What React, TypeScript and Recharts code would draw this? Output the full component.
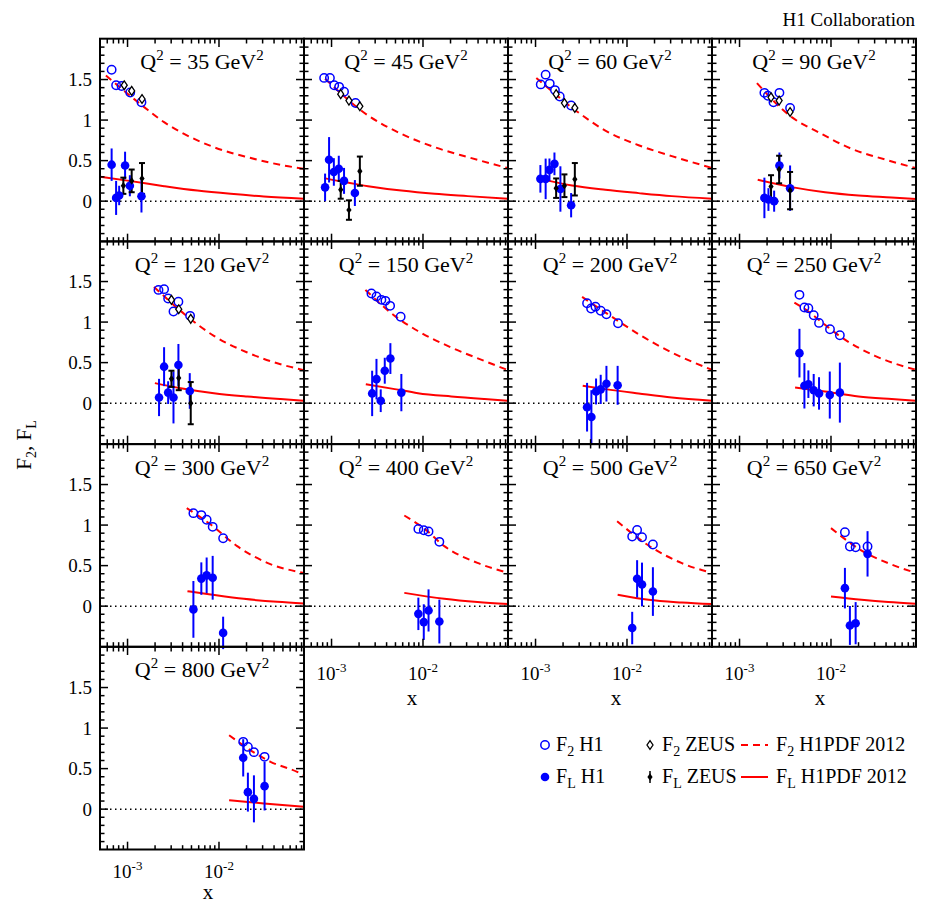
import React from "react";
import {
  ComposedChart,
  ErrorBar,
  Line,
  ReferenceLine,
  Scatter,
  XAxis,
  YAxis,
} from "recharts";

// [x, value, error]
const q2List = [35, 45, 60, 90, 120, 150, 200, 250, 300, 400, 500, 650, 800];

const f2h1Q35 = [[6.7e-4, 1.62], [7.5e-4, 1.43], [8.6e-4, 1.42], [1.07e-3, 1.34], [1.42e-3, 1.22]];
const f2zeusQ35 = [[9.2e-4, 1.43], [1.11e-3, 1.36], [1.44e-3, 1.26]];
const flh1Q35 = [[6.7e-4, 0.45, 0.2], [7.5e-4, 0.04, 0.21], [8.1e-4, 0.07, 0.12], [9.4e-4, 0.44, 0.17], [1.06e-3, 0.19, 0.13], [1.42e-3, 0.06, 0.2]];
const flzeusQ35 = [[9.0e-4, 0.19, 0.1], [1.11e-3, 0.25, 0.14], [1.44e-3, 0.28, 0.19]];
const f2pdfQ35 = [[5.8e-4, 1.55], [1.52e-3, 1.16], [2.51e-3, 0.974], [4.15e-3, 0.83], [8.8e-3, 0.666], [0.0204, 0.543], [0.0512, 0.44], [0.085, 0.4]];
const flpdfQ35 = [[5e-4, 0.3], [1.09e-3, 0.247], [2.51e-3, 0.185], [5.8e-3, 0.13], [0.0134, 0.09], [0.0309, 0.058], [0.085, 0.03]];

const f2h1Q45 = [[8.3e-4, 1.52], [9.6e-4, 1.52], [1.07e-3, 1.43], [1.21e-3, 1.41], [1.37e-3, 1.35], [1.83e-3, 1.21]];
const f2zeusQ45 = [[1.26e-3, 1.32], [1.55e-3, 1.24], [2.04e-3, 1.17]];
const flh1Q45 = [[8.5e-4, 0.17, 0.17], [9.4e-4, 0.51, 0.28], [1.06e-3, 0.36, 0.17], [1.2e-3, 0.4, 0.16], [1.37e-3, 0.25, 0.16], [1.8e-3, 0.1, 0.16]];
const flzeusQ45 = [[1.26e-3, 0.14, 0.11], [1.55e-3, -0.11, 0.12], [2.04e-3, 0.37, 0.18]];
const f2pdfQ45 = [[8.5e-4, 1.51], [2.51e-3, 1.056], [5.8e-3, 0.83], [0.0134, 0.666], [0.0309, 0.543], [0.085, 0.407]];
const flpdfQ45 = [[8.3e-4, 0.284], [2.51e-3, 0.185], [5.8e-3, 0.13], [0.0134, 0.09], [0.0309, 0.062], [0.085, 0.03]];

const f2h1Q60 = [[1.14e-3, 1.44], [1.29e-3, 1.56], [1.43e-3, 1.45], [1.63e-3, 1.37], [1.84e-3, 1.29], [2.45e-3, 1.18]];
const f2zeusQ60 = [[1.68e-3, 1.32], [2.07e-3, 1.21], [2.69e-3, 1.15]];
const flh1Q60 = [[1.13e-3, 0.275, 0.17], [1.29e-3, 0.275, 0.25], [1.42e-3, 0.386, 0.14], [1.61e-3, 0.46, 0.14], [1.87e-3, 0.15, 0.28], [2.45e-3, -0.05, 0.15]];
const flzeusQ60 = [[1.68e-3, 0.16, 0.12], [2.07e-3, 0.19, 0.14], [2.69e-3, 0.27, 0.2]];
const f2pdfQ60 = [[1.02e-3, 1.52], [2.97e-3, 1.09], [5.8e-3, 0.87], [0.0134, 0.69], [0.0309, 0.555], [0.085, 0.41]];
const flpdfQ60 = [[1.04e-3, 0.284], [2.51e-3, 0.193], [5.8e-3, 0.14], [0.0134, 0.099], [0.0309, 0.062], [0.085, 0.03]];

const f2h1Q90 = [[1.87e-3, 1.336], [2.04e-3, 1.3], [2.35e-3, 1.22], [2.73e-3, 1.336], [3.57e-3, 1.15]];
const f2zeusQ90 = [[2.21e-3, 1.28], [2.71e-3, 1.24], [3.57e-3, 1.1]];
const flh1Q90 = [[1.87e-3, 0.04, 0.25], [2.07e-3, 0.02, 0.14], [2.39e-3, 0.0, 0.13], [2.73e-3, 0.44, 0.16], [3.57e-3, 0.16, 0.28]];
const flzeusQ90 = [[2.21e-3, 0.18, 0.14], [2.71e-3, 0.39, 0.17], [3.57e-3, 0.13, 0.23]];
const f2pdfQ90 = [[1.55e-3, 1.455], [3.72e-3, 1.036], [7.3e-3, 0.85], [0.0168, 0.645], [0.0389, 0.514], [0.085, 0.407]];
const flpdfQ90 = [[1.58e-3, 0.263], [3.72e-3, 0.173], [8.6e-3, 0.11], [0.02, 0.07], [0.046, 0.045], [0.085, 0.025]];

const f2h1Q120 = [[2.18e-3, 1.397], [2.51e-3, 1.406], [2.78e-3, 1.29], [3.18e-3, 1.13], [3.6e-3, 1.25], [4.83e-3, 1.077]];
const f2zeusQ120 = [[3.02e-3, 1.274], [3.63e-3, 1.159], [4.91e-3, 1.04]];
const flh1Q120 = [[2.21e-3, 0.07, 0.23], [2.51e-3, 0.45, 0.24], [2.78e-3, 0.13, 0.14], [3.18e-3, 0.07, 0.32], [3.6e-3, 0.47, 0.26], [4.79e-3, 0.15, 0.22]];
const flzeusQ120 = [[3.02e-3, 0.3, 0.1], [3.63e-3, 0.31, 0.15], [4.91e-3, 0.0, 0.26]];
const f2pdfQ120 = [[1.95e-3, 1.434], [4.2e-3, 1.097], [8.8e-3, 0.83], [0.0204, 0.625], [0.0471, 0.48], [0.085, 0.407]];
const flpdfQ120 = [[1.99e-3, 0.247], [3.82e-3, 0.185], [8.8e-3, 0.123], [0.0204, 0.082], [0.0471, 0.05], [0.085, 0.03]];

const f2h1Q150 = [[2.73e-3, 1.352], [3.1e-3, 1.315], [3.51e-3, 1.274], [3.88e-3, 1.262], [4.37e-3, 1.2], [5.7e-3, 1.065]];
const flh1Q150 = [[2.78e-3, 0.12, 0.28], [3.1e-3, 0.296, 0.25], [3.45e-3, 0.03, 0.14], [3.82e-3, 0.4, 0.16], [4.4e-3, 0.55, 0.19], [5.8e-3, 0.13, 0.23]];
const f2pdfQ150 = [[2.35e-3, 1.397], [4.91e-3, 1.077], [8.8e-3, 0.89], [0.0204, 0.686], [0.0471, 0.52], [0.085, 0.407]];
const flpdfQ150 = [[2.37e-3, 0.234], [4.91e-3, 0.173], [8.8e-3, 0.123], [0.0204, 0.082], [0.0471, 0.05], [0.085, 0.03]];

const f2h1Q200 = [[3.66e-3, 1.233], [4.05e-3, 1.167], [4.52e-3, 1.19], [5.16e-3, 1.14], [5.96e-3, 1.097], [7.98e-3, 0.986]];
const flh1Q200 = [[3.66e-3, -0.05, 0.3], [4.08e-3, -0.17, 0.33], [4.59e-3, 0.144, 0.16], [5.16e-3, 0.17, 0.18], [5.96e-3, 0.24, 0.22], [7.9e-3, 0.22, 0.24]];
const f2pdfQ200 = [[3.23e-3, 1.31], [7.47e-3, 1.036], [0.0134, 0.85], [0.0309, 0.625], [0.085, 0.41]];
const flpdfQ200 = [[3.28e-3, 0.214], [5.8e-3, 0.173], [0.0134, 0.12], [0.0309, 0.07], [0.085, 0.03]];

const f2h1Q250 = [[4.52e-3, 1.336], [5.12e-3, 1.18], [5.66e-3, 1.17], [6.47e-3, 1.085], [7.4e-3, 0.99], [9.75e-3, 0.912], [0.0125, 0.838]];
const flh1Q250 = [[4.52e-3, 0.617, 0.3], [5.12e-3, 0.214, 0.28], [5.66e-3, 0.234, 0.17], [6.47e-3, 0.16, 0.2], [7.4e-3, 0.12, 0.2], [9.7e-3, 0.1, 0.29], [0.0125, 0.13, 0.37]];
const f2pdfQ250 = [[3.98e-3, 1.24], [5.66e-3, 1.13], [8.6e-3, 0.966], [0.0131, 0.81], [0.0302, 0.584], [0.085, 0.41]];
const flpdfQ250 = [[4.05e-3, 0.193], [8.6e-3, 0.144], [0.02, 0.082], [0.046, 0.05], [0.085, 0.03]];

const f2h1Q300 = [[5.25e-3, 1.147], [6.41e-3, 1.123], [7.33e-3, 1.065], [8.53e-3, 0.978], [0.0111, 0.838]];
const flh1Q300 = [[5.25e-3, -0.04, 0.35], [6.41e-3, 0.34, 0.2], [7.33e-3, 0.38, 0.22], [8.53e-3, 0.35, 0.27], [0.0111, -0.33, 0.2]];
const f2pdfQ300 = [[4.44e-3, 1.21], [8.1e-3, 1.007], [0.0158, 0.74], [0.0337, 0.534], [0.085, 0.41]];
const flpdfQ300 = [[4.52e-3, 0.185], [8.1e-3, 0.144], [0.0187, 0.09], [0.0433, 0.053], [0.085, 0.033]];

const f2h1Q400 = [[8.9e-3, 0.953], [0.0102, 0.937], [0.0115, 0.92], [0.0151, 0.793]];
const flh1Q400 = [[8.9e-3, -0.095, 0.2], [0.0102, -0.197, 0.22], [0.0115, -0.053, 0.26], [0.0151, -0.19, 0.27]];
const f2pdfQ400 = [[6.25e-3, 1.118], [0.0105, 0.95], [0.0171, 0.74], [0.0394, 0.534], [0.085, 0.41]];
const flpdfQ400 = [[6.25e-3, 0.164], [0.0171, 0.09], [0.0394, 0.05], [0.085, 0.025]];

const f2h1Q500 = [[0.0114, 0.86], [0.0129, 0.94], [0.0146, 0.85], [0.0192, 0.76]];
const flh1Q500 = [[0.0114, -0.27, 0.2], [0.0129, 0.337, 0.23], [0.0146, 0.267, 0.27], [0.0192, 0.18, 0.3]];
const f2pdfQ500 = [[7.8e-3, 1.048], [0.0172, 0.748], [0.0398, 0.53], [0.085, 0.41]];
const flpdfQ500 = [[7.9e-3, 0.14], [0.0172, 0.078], [0.0398, 0.045], [0.085, 0.025]];

const f2h1Q650 = [[0.0142, 0.912], [0.0161, 0.736], [0.0186, 0.727], [0.0251, 0.736]];
const flh1Q650 = [[0.0142, 0.222, 0.25], [0.0161, -0.238, 0.24], [0.0186, -0.21, 0.26], [0.0251, 0.645, 0.28]];
const f2pdfQ650 = [[0.01, 0.962], [0.0216, 0.686], [0.0422, 0.53], [0.085, 0.41]];
const flpdfQ650 = [[0.01, 0.12], [0.0216, 0.078], [0.0422, 0.05], [0.085, 0.03]];

const f2h1Q800 = [[0.0184, 0.83], [0.0207, 0.768], [0.0241, 0.703], [0.0315, 0.645]];
const flh1Q800 = [[0.0184, 0.633, 0.23], [0.0207, 0.21, 0.24], [0.0241, 0.127, 0.29], [0.0315, 0.284, 0.3]];
const f2pdfQ800 = [[0.0129, 0.912], [0.0366, 0.584], [0.0716, 0.46], [0.085, 0.419]];
const flpdfQ800 = [[0.0129, 0.111], [0.031, 0.07], [0.085, 0.03]];

const xTicks = [6e-4, 7e-4, 8e-4, 9e-4, 1e-3, 2e-3, 3e-3, 4e-3, 5e-3, 6e-3, 7e-3, 8e-3, 9e-3, 1e-2, 2e-2, 3e-2, 4e-2, 5e-2, 6e-2, 7e-2, 8e-2];
const xMajor = [1e-3, 1e-2];
const xMajorLabels = ["-3", "-2"];
const yTicks = [-0.4, -0.3, -0.2, -0.1, 0, 0.1, 0.2, 0.3, 0.4, 0.5, 0.6, 0.7, 0.8, 0.9, 1, 1.1, 1.2, 1.3, 1.4, 1.5, 1.6, 1.7, 1.8, 1.9];
const yLabels = [0, 0.5, 1, 1.5];

const X_DOMAIN = [5e-4, 0.085];
const Y_DOMAIN = [-0.5, 2.0];

const BLUE = "#0000ff";
const RED = "#ff0000";
const FONT = '"Liberation Serif", "Times New Roman", serif';

const PW = 204;
const PH = 202.7;
const X0 = 100;
const Y0 = 38.7;
const ML = 50;
const MR = 6;
const MT = 6;
const MB = 44;

const toPts = (a: number[][]) => a.map(([x, y, e]) => ({ x, y, e }));

const panels = [
  { f2h1: f2h1Q35, f2zeus: f2zeusQ35, flh1: flh1Q35, flzeus: flzeusQ35, f2pdf: f2pdfQ35, flpdf: flpdfQ35 },
  { f2h1: f2h1Q45, f2zeus: f2zeusQ45, flh1: flh1Q45, flzeus: flzeusQ45, f2pdf: f2pdfQ45, flpdf: flpdfQ45 },
  { f2h1: f2h1Q60, f2zeus: f2zeusQ60, flh1: flh1Q60, flzeus: flzeusQ60, f2pdf: f2pdfQ60, flpdf: flpdfQ60 },
  { f2h1: f2h1Q90, f2zeus: f2zeusQ90, flh1: flh1Q90, flzeus: flzeusQ90, f2pdf: f2pdfQ90, flpdf: flpdfQ90 },
  { f2h1: f2h1Q120, f2zeus: f2zeusQ120, flh1: flh1Q120, flzeus: flzeusQ120, f2pdf: f2pdfQ120, flpdf: flpdfQ120 },
  { f2h1: f2h1Q150, f2zeus: [], flh1: flh1Q150, flzeus: [], f2pdf: f2pdfQ150, flpdf: flpdfQ150 },
  { f2h1: f2h1Q200, f2zeus: [], flh1: flh1Q200, flzeus: [], f2pdf: f2pdfQ200, flpdf: flpdfQ200 },
  { f2h1: f2h1Q250, f2zeus: [], flh1: flh1Q250, flzeus: [], f2pdf: f2pdfQ250, flpdf: flpdfQ250 },
  { f2h1: f2h1Q300, f2zeus: [], flh1: flh1Q300, flzeus: [], f2pdf: f2pdfQ300, flpdf: flpdfQ300 },
  { f2h1: f2h1Q400, f2zeus: [], flh1: flh1Q400, flzeus: [], f2pdf: f2pdfQ400, flpdf: flpdfQ400 },
  { f2h1: f2h1Q500, f2zeus: [], flh1: flh1Q500, flzeus: [], f2pdf: f2pdfQ500, flpdf: flpdfQ500 },
  { f2h1: f2h1Q650, f2zeus: [], flh1: flh1Q650, flzeus: [], f2pdf: f2pdfQ650, flpdf: flpdfQ650 },
  { f2h1: f2h1Q800, f2zeus: [], flh1: flh1Q800, flzeus: [], f2pdf: f2pdfQ800, flpdf: flpdfQ800 },
];

// markers
const OpenCircle = (p: any) => (
  <circle cx={p.cx} cy={p.cy} r={4.2} fill="none" stroke={BLUE} strokeWidth={1.5} />
);
const FullCircle = (p: any) => <circle cx={p.cx} cy={p.cy} r={4.3} fill={BLUE} />;
const OpenDiamond = (p: any) => (
  <path
    d={`M${p.cx},${p.cy - 4.4}L${p.cx + 3},${p.cy}L${p.cx},${p.cy + 4.4}L${p.cx - 3},${p.cy}Z`}
    fill="#fff"
    stroke="#000"
    strokeWidth={1.3}
  />
);
const FullDiamond = (p: any) => (
  <path
    d={`M${p.cx},${p.cy - 3.8}L${p.cx + 2.6},${p.cy}L${p.cx},${p.cy + 3.8}L${p.cx - 2.6},${p.cy}Z`}
    fill="#000"
  />
);

function XTick(props: any) {
  const { x, y, payload, showLabel, labelDy } = props;
  const v = payload.value;
  const mi = xMajor.indexOf(v);
  const len = mi >= 0 ? 8 : 4.5;
  return (
    <g>
      <line x1={x} y1={y} x2={x} y2={y - len} stroke="#000" strokeWidth={1.5} />
      <line x1={x} y1={y - PH} x2={x} y2={y - PH + len} stroke="#000" strokeWidth={1.5} />
      {showLabel && mi >= 0 && (
        <text x={x} y={y + labelDy} textAnchor="middle" fontFamily={FONT} fontSize={19} fill="#000">
          10
          <tspan dy={-8} fontSize={13}>
            {xMajorLabels[mi]}
          </tspan>
        </text>
      )}
    </g>
  );
}

function YTick(props: any) {
  const { x, y, payload, showLabel } = props;
  const v = payload.value;
  const major = Math.abs(v * 2 - Math.round(v * 2)) < 1e-6;
  const len = major ? 8 : 4.5;
  return (
    <g>
      <line x1={x} y1={y} x2={x + len} y2={y} stroke="#000" strokeWidth={1.5} />
      <line x1={x + PW} y1={y} x2={x + PW - len} y2={y} stroke="#000" strokeWidth={1.5} />
      {showLabel && yLabels.includes(v) && (
        <text x={x - 8} y={y + 6.5} textAnchor="end" fontFamily={FONT} fontSize={19} fill="#000">
          {String(v)}
        </text>
      )}
    </g>
  );
}

function Panel({ index }: { index: number }) {
  const p = panels[index];
  const row = Math.floor(index / 4);
  const col = index % 4;
  const left = X0 + col * PW;
  const top = Y0 + row * PH;
  const xLabels = row === 3 || (row === 2 && col > 0);
  const labelDy = row === 3 ? 28 : 33;

  return (
    <div style={{ position: "absolute", left: left - ML, top: top - MT }}>
      <ComposedChart
        width={PW + ML + MR}
        height={PH + MT + MB}
        margin={{ top: MT, right: MR, bottom: MB - 1, left: ML - 1 }}
      >
        <XAxis
          dataKey="x"
          type="number"
          scale="log"
          domain={X_DOMAIN}
          allowDataOverflow
          ticks={xTicks}
          interval={0}
          height={1}
          tickSize={0}
          tickMargin={0}
          axisLine={false}
          tickLine={false}
          tick={(tp: any) => <XTick {...tp} showLabel={xLabels} labelDy={labelDy} />}
        />
        <YAxis
          dataKey="y"
          type="number"
          domain={Y_DOMAIN}
          allowDataOverflow
          ticks={yTicks}
          interval={0}
          width={1}
          tickSize={0}
          tickMargin={0}
          axisLine={false}
          tickLine={false}
          tick={(tp: any) => <YTick {...tp} showLabel={col === 0} />}
        />
        <ReferenceLine y={0} stroke="#000" strokeWidth={1.5} strokeDasharray="1.5 3.5" />
        <Line
          data={toPts(p.f2pdf)}
          dataKey="y"
          type="monotone"
          stroke={RED}
          strokeWidth={2}
          strokeDasharray="7 5"
          dot={false}
          isAnimationActive={false}
        />
        <Line
          data={toPts(p.flpdf)}
          dataKey="y"
          type="monotone"
          stroke={RED}
          strokeWidth={2}
          dot={false}
          isAnimationActive={false}
        />
        <Scatter data={toPts(p.f2h1)} shape={OpenCircle} isAnimationActive={false} />
        <Scatter data={toPts(p.f2zeus)} shape={OpenDiamond} isAnimationActive={false} />
        <Scatter data={toPts(p.flh1)} shape={FullCircle} isAnimationActive={false}>
          <ErrorBar dataKey="e" direction="y" width={0} stroke={BLUE} strokeWidth={2} isAnimationActive={false} />
        </Scatter>
        <Scatter data={toPts(p.flzeus)} shape={FullDiamond} isAnimationActive={false}>
          <ErrorBar dataKey="e" direction="y" width={3} stroke="#000" strokeWidth={2} isAnimationActive={false} />
        </Scatter>
      </ComposedChart>
    </div>
  );
}

function Overlay() {
  return (
    <svg
      width={930}
      height={904}
      style={{ position: "absolute", left: 0, top: 0, pointerEvents: "none" }}
      fontFamily={FONT}
    >
      <text x={915} y={26} textAnchor="end" fontSize={19}>
        H1 Collaboration
      </text>
      {q2List.map((q, i) => {
        const row = Math.floor(i / 4);
        const col = i % 4;
        const left = X0 + col * PW;
        const top = Y0 + row * PH;
        return (
          <g key={q}>
            <rect x={left} y={top} width={PW} height={PH} fill="none" stroke="#000" strokeWidth={2} />
            <text x={left + PW / 2} y={top + 30.5} textAnchor="middle" fontSize={22}>
              Q<tspan dy={-9} fontSize={15}>2</tspan>
              <tspan dy={9}>{` = ${q} GeV`}</tspan>
              <tspan dy={-9} fontSize={15}>2</tspan>
            </text>
          </g>
        );
      })}
      {/* x axis titles */}
      <text x={X0 + PW + 108} y={Y0 + 3 * PH + 58} textAnchor="middle" fontSize={21}>x</text>
      <text x={X0 + 2 * PW + 108} y={Y0 + 3 * PH + 58} textAnchor="middle" fontSize={21}>x</text>
      <text x={X0 + 3 * PW + 108} y={Y0 + 3 * PH + 58} textAnchor="middle" fontSize={21}>x</text>
      <text x={X0 + 108} y={Y0 + 4 * PH + 49} textAnchor="middle" fontSize={21}>x</text>
      {/* y axis title */}
      <text x={31} y={445} textAnchor="middle" fontSize={21} transform="rotate(-90 31 445)">
        F<tspan dy={5} fontSize={14}>2</tspan>
        <tspan dy={-5}>, F</tspan>
        <tspan dy={5} fontSize={14}>L</tspan>
      </text>
      {/* legend */}
      <circle cx={545} cy={745} r={4.2} fill="none" stroke={BLUE} strokeWidth={1.5} />
      <text x={556} y={751} fontSize={20}>
        F<tspan dy={5} fontSize={14}>2</tspan>
        <tspan dy={-5}> H1</tspan>
      </text>
      <path d="M650,740.6L653,745L650,749.4L647,745Z" fill="#fff" stroke="#000" strokeWidth={1.3} />
      <text x={662} y={751} fontSize={20}>
        F<tspan dy={5} fontSize={14}>2</tspan>
        <tspan dy={-5}> ZEUS</tspan>
      </text>
      <line x1={741} y1={745} x2={768} y2={745} stroke={RED} strokeWidth={2} strokeDasharray="7 5" />
      <text x={776} y={751} fontSize={20}>
        F<tspan dy={5} fontSize={14}>2</tspan>
        <tspan dy={-5}> H1PDF 2012</tspan>
      </text>

      <circle cx={545} cy={777} r={4.3} fill={BLUE} />
      <text x={556} y={783} fontSize={20}>
        F<tspan dy={5} fontSize={14}>L</tspan>
        <tspan dy={-5}> H1</tspan>
      </text>
      <line x1={650} y1={771} x2={650} y2={783} stroke="#000" strokeWidth={1.5} />
      <path d="M650,773.2L652.6,777L650,780.8L647.4,777Z" fill="#000" />
      <text x={662} y={783} fontSize={20}>
        F<tspan dy={5} fontSize={14}>L</tspan>
        <tspan dy={-5}> ZEUS</tspan>
      </text>
      <line x1={741} y1={777} x2={768} y2={777} stroke={RED} strokeWidth={2} />
      <text x={776} y={783} fontSize={20}>
        F<tspan dy={5} fontSize={14}>L</tspan>
        <tspan dy={-5}> H1PDF 2012</tspan>
      </text>
    </svg>
  );
}

export default function App() {
  return (
    <div style={{ position: "absolute", left: 0, top: 0, width: 930, height: 904, background: "#fff" }}>
      {panels.map((_, i) => (
        <Panel key={i} index={i} />
      ))}
      <Overlay />
    </div>
  );
}
